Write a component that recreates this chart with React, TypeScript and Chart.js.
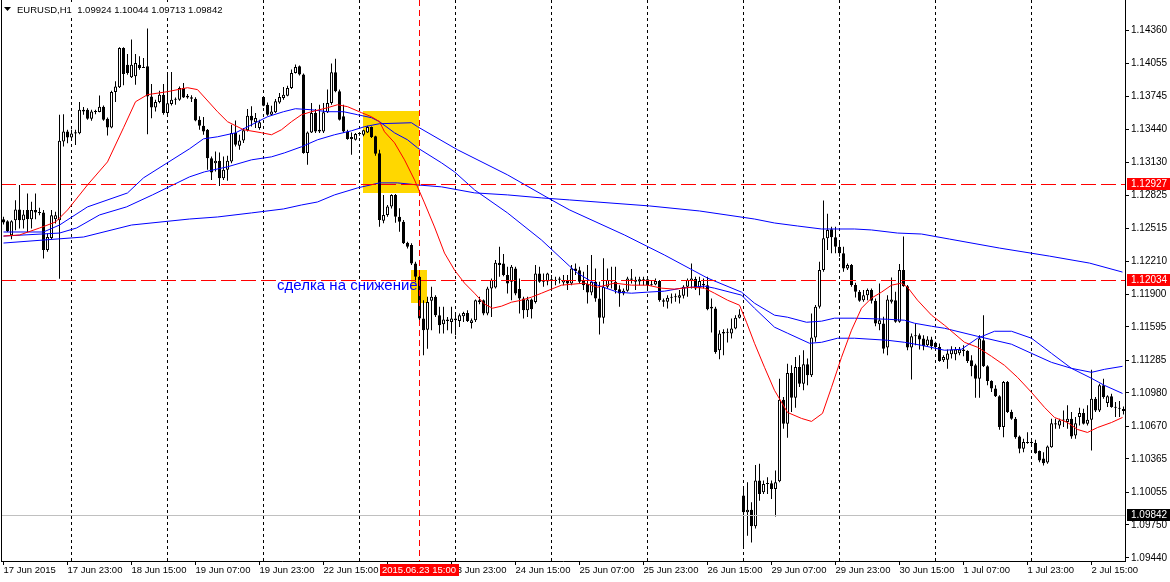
import React, { useEffect, useRef } from "react";
import { Chart, registerables } from "chart.js";

Chart.register(...registerables);

// ---------------- data (EURUSD H1, bar index 0 = 17 Jun 2015 07:00) ----------------
const opens = [
  1.12601, 1.12582, 1.12451, 1.12591, 1.12691, 1.12591, 1.12685, 1.12601, 1.12685, 1.12663,
  1.12663, 1.12314, 1.12426, 1.12601, 1.12591, 1.13324, 1.13418, 1.13362, 1.13399, 1.13402,
  1.13621, 1.13621, 1.13537, 1.13605, 1.13600, 1.13649, 1.13537, 1.13456, 1.13786, 1.13830,
  1.14198, 1.14042, 1.13924, 1.13933, 1.14042, 1.14011, 1.14027, 1.13746, 1.13643, 1.13693,
  1.13761, 1.13590, 1.13674, 1.13715, 1.13715, 1.13824, 1.13736, 1.13737, 1.13725, 1.13528,
  1.13472, 1.13435, 1.13170, 1.13123, 1.13145, 1.12983, 1.13061, 1.13139, 1.13404, 1.13285,
  1.13335, 1.13429, 1.13566, 1.13504, 1.13451, 1.13740, 1.13669, 1.13575, 1.13597, 1.13690,
  1.13731, 1.13753, 1.13825, 1.13965, 1.14027, 1.13949, 1.13217, 1.13410, 1.13591, 1.13419,
  1.13419, 1.13597, 1.13684, 1.13971, 1.13793, 1.13560, 1.13419, 1.13348, 1.13341, 1.13394,
  1.13388, 1.13410, 1.13460, 1.13373, 1.13216, 1.12587, 1.12640, 1.12718, 1.12827, 1.12624,
  1.12577, 1.12381, 1.12359, 1.12188, 1.12063, 1.11673, 1.11570, 1.11839, 1.11876, 1.11705,
  1.11620, 1.11664, 1.11642, 1.11673, 1.11651, 1.11695, 1.11726, 1.11633, 1.11658, 1.11845,
  1.11845, 1.11720, 1.11954, 1.11963, 1.12194, 1.12188, 1.12079, 1.12016, 1.12141, 1.11950,
  1.11860, 1.11751, 1.11851, 1.11829, 1.12094, 1.12016, 1.12020, 1.12040, 1.12025, 1.12035,
  1.12010, 1.12032, 1.12001, 1.12141, 1.12125, 1.12030, 1.11995, 1.11917, 1.12017, 1.11861,
  1.11680, 1.11970, 1.12032, 1.12017, 1.11948, 1.11908, 1.11932, 1.12048, 1.12035, 1.12020,
  1.12040, 1.12040, 1.11985, 1.11992, 1.12023, 1.11845, 1.11830, 1.11867, 1.11876, 1.11867,
  1.11886, 1.11970, 1.12023, 1.12042, 1.11960, 1.11995, 1.11985, 1.11783, 1.11767, 1.11378,
  1.11533, 1.11549, 1.11533, 1.11580, 1.11680, 1.10022, 1.09866, 1.09891, 1.09735, 1.10162,
  1.10053, 1.10131, 1.10137, 1.10084, 1.10156, 1.10917, 1.10692, 1.11166, 1.10935, 1.11222,
  1.11066, 1.11247, 1.11144, 1.11496, 1.11783, 1.12126, 1.12422, 1.12506, 1.12431, 1.12344,
  1.12282, 1.12141, 1.12173, 1.11986, 1.11923, 1.11845, 1.11892, 1.11939, 1.11839, 1.11621,
  1.11627, 1.11403, 1.11830, 1.11845, 1.11643, 1.12126, 1.11976, 1.11403, 1.11509, 1.11518,
  1.11487, 1.11425, 1.11478, 1.11447, 1.11409, 1.11284, 1.11290, 1.11341, 1.11341, 1.11350,
  1.11384, 1.11372, 1.11284, 1.11238, 1.11113, 1.11471, 1.11228, 1.11091, 1.11020, 1.10948,
  1.10661, 1.11082, 1.10801, 1.10739, 1.10574, 1.10458, 1.10521, 1.10512, 1.10512, 1.10437,
  1.10368, 1.10330, 1.10474, 1.10698, 1.10677, 1.10723, 1.10708, 1.10739, 1.10583, 1.10755,
  1.10792, 1.10692, 1.10730, 1.10926, 1.10817, 1.11051, 1.10885, 1.10948, 1.10848, 1.10842,
  1.10829,
];

const highs = [
  1.12622, 1.12591, 1.12591, 1.12778, 1.12919, 1.12685, 1.12841, 1.12763, 1.12841, 1.12707,
  1.12685, 1.12466, 1.12685, 1.12669, 1.13574, 1.13580, 1.13434, 1.13434, 1.13434, 1.13693,
  1.13646, 1.13636, 1.13621, 1.13621, 1.13755, 1.13661, 1.13549, 1.13799, 1.13886, 1.14204,
  1.14204, 1.14142, 1.14276, 1.14142, 1.14120, 1.14104, 1.14379, 1.13861, 1.13715, 1.13799,
  1.13861, 1.13973, 1.13973, 1.13736, 1.13839, 1.13871, 1.13768, 1.13756, 1.13737, 1.13560,
  1.13553, 1.13441, 1.13186, 1.13232, 1.13223, 1.13186, 1.13192, 1.13482, 1.13522, 1.13388,
  1.13451, 1.13628, 1.13653, 1.13591, 1.13528, 1.13747, 1.13690, 1.13659, 1.13722, 1.13778,
  1.13834, 1.13846, 1.13996, 1.14043, 1.14033, 1.13959, 1.13419, 1.13684, 1.13628, 1.13669,
  1.13684, 1.13809, 1.14052, 1.14096, 1.13809, 1.13669, 1.13435, 1.13410, 1.13404, 1.13410,
  1.13435, 1.13472, 1.13466, 1.13379, 1.13247, 1.12827, 1.12733, 1.12833, 1.12836, 1.12702,
  1.12593, 1.12390, 1.12375, 1.12203, 1.12079, 1.11845, 1.11876, 1.11970, 1.11892, 1.11783,
  1.11783, 1.11689, 1.11783, 1.11720, 1.11720, 1.11736, 1.11751, 1.11673, 1.11851, 1.11876,
  1.11851, 1.11970, 1.12047, 1.12219, 1.12344, 1.12275, 1.12157, 1.12172, 1.12157, 1.12047,
  1.11876, 1.11876, 1.11860, 1.12172, 1.12157, 1.12094, 1.12100, 1.12079, 1.12063, 1.12063,
  1.12079, 1.12079, 1.12172, 1.12188, 1.12157, 1.12110, 1.12172, 1.12266, 1.12141, 1.12017,
  1.12235, 1.12141, 1.12157, 1.12157, 1.11985, 1.11954, 1.12063, 1.12135, 1.12063, 1.12063,
  1.12063, 1.12063, 1.12032, 1.12048, 1.12032, 1.11861, 1.11892, 1.11908, 1.11908, 1.11939,
  1.11985, 1.12048, 1.12188, 1.12063, 1.12063, 1.12048, 1.12063, 1.11861, 1.11783, 1.11565,
  1.11574, 1.11580, 1.11674, 1.11705, 1.11761, 1.10084, 1.10146, 1.09959, 1.10308, 1.10318,
  1.10162, 1.10193, 1.10162, 1.10256, 1.11113, 1.10941, 1.11253, 1.11238, 1.11316, 1.11331,
  1.11378, 1.11300, 1.11721, 1.11799, 1.12204, 1.12774, 1.12650, 1.12531, 1.12531, 1.12391,
  1.12344, 1.12188, 1.12182, 1.12008, 1.11939, 1.11939, 1.11955, 1.11955, 1.11861, 1.12001,
  1.11690, 1.11892, 1.12057, 1.11923, 1.12182, 1.12438, 1.11986, 1.11534, 1.11627, 1.11534,
  1.11518, 1.11509, 1.11503, 1.11456, 1.11440, 1.11331, 1.11384, 1.11415, 1.11409, 1.11409,
  1.11425, 1.11378, 1.11331, 1.11253, 1.11518, 1.11705, 1.11238, 1.11097, 1.11051, 1.10957,
  1.11091, 1.11091, 1.10823, 1.10755, 1.10583, 1.10552, 1.10614, 1.10536, 1.10543, 1.10443,
  1.10427, 1.10490, 1.10739, 1.10739, 1.10739, 1.10817, 1.10864, 1.10801, 1.10755, 1.10842,
  1.10832, 1.10864, 1.11197, 1.10941, 1.11066, 1.11113, 1.10957, 1.10973, 1.10895, 1.10904,
  1.10854,
];

const lows = [
  1.12551, 1.12482, 1.12413, 1.12498, 1.12513, 1.12513, 1.12482, 1.12513, 1.12601, 1.12638,
  1.12234, 1.12297, 1.12413, 1.12560, 1.12045, 1.13278, 1.13309, 1.13349, 1.13293, 1.13393,
  1.13574, 1.13527, 1.13518, 1.13580, 1.13599, 1.13518, 1.13381, 1.13449, 1.13693, 1.13824,
  1.13849, 1.13948, 1.13917, 1.13855, 1.13995, 1.14011, 1.13393, 1.13543, 1.13605, 1.13683,
  1.13574, 1.13558, 1.13661, 1.13668, 1.13705, 1.13731, 1.13724, 1.13694, 1.13513, 1.13435,
  1.13388, 1.13061, 1.12967, 1.13045, 1.12911, 1.12967, 1.12958, 1.13123, 1.13279, 1.13248,
  1.13310, 1.13419, 1.13466, 1.13451, 1.13435, 1.13653, 1.13566, 1.13570, 1.13591, 1.13678,
  1.13715, 1.13747, 1.13815, 1.13959, 1.13940, 1.13210, 1.13108, 1.13404, 1.13404, 1.13404,
  1.13404, 1.13591, 1.13669, 1.13784, 1.13522, 1.13404, 1.13341, 1.13201, 1.13335, 1.13379,
  1.13373, 1.13404, 1.13357, 1.13192, 1.12531, 1.12562, 1.12624, 1.12700, 1.12568, 1.12484,
  1.12368, 1.12328, 1.12172, 1.12016, 1.11658, 1.11331, 1.11393, 1.11564, 1.11689, 1.11533,
  1.11533, 1.11564, 1.11533, 1.11518, 1.11595, 1.11642, 1.11642, 1.11580, 1.11642, 1.11807,
  1.11705, 1.11705, 1.11689, 1.11954, 1.12063, 1.12069, 1.11907, 1.11845, 1.11892, 1.11720,
  1.11673, 1.11689, 1.11673, 1.11814, 1.12007, 1.11970, 1.11985, 1.11954, 1.11985, 1.12001,
  1.11985, 1.11939, 1.11985, 1.12079, 1.12001, 1.11939, 1.11814, 1.11892, 1.11830, 1.11524,
  1.11627, 1.11954, 1.11954, 1.11908, 1.11783, 1.11892, 1.11923, 1.12001, 1.11939, 1.11985,
  1.11985, 1.11954, 1.11979, 1.11985, 1.11830, 1.11783, 1.11767, 1.11814, 1.11830, 1.11814,
  1.11861, 1.11876, 1.11954, 1.11939, 1.11892, 1.11954, 1.11752, 1.11543, 1.11346, 1.11293,
  1.11331, 1.11449, 1.11487, 1.11574, 1.11674, 1.09523, 1.09648, 1.09585, 1.09716, 1.09975,
  1.10038, 1.10038, 1.09991, 1.09826, 1.10147, 1.10645, 1.10561, 1.10801, 1.10842, 1.11035,
  1.11004, 1.11051, 1.11129, 1.11456, 1.11767, 1.12110, 1.12313, 1.12282, 1.12282, 1.12251,
  1.12110, 1.12126, 1.11970, 1.11870, 1.11830, 1.11830, 1.11845, 1.11814, 1.11602, 1.11565,
  1.11347, 1.11331, 1.11814, 1.11634, 1.11634, 1.11970, 1.11378, 1.11104, 1.11425, 1.11384,
  1.11378, 1.11409, 1.11384, 1.11378, 1.11270, 1.11269, 1.11206, 1.11300, 1.11284, 1.11331,
  1.11322, 1.11260, 1.11135, 1.10935, 1.10935, 1.11222, 1.11051, 1.10988, 1.10942, 1.10636,
  1.10567, 1.10792, 1.10730, 1.10552, 1.10418, 1.10427, 1.10505, 1.10499, 1.10412, 1.10334,
  1.10303, 1.10320, 1.10468, 1.10645, 1.10645, 1.10661, 1.10645, 1.10552, 1.10552, 1.10677,
  1.10686, 1.10677, 1.10443, 1.10801, 1.10801, 1.10926, 1.10848, 1.10842, 1.10755, 1.10755,
  1.10779,
];

const closes = [
  1.12569, 1.12488, 1.12582, 1.12691, 1.12591, 1.12644, 1.12601, 1.12685, 1.12663, 1.12657,
  1.12314, 1.12435, 1.12638, 1.12638, 1.13331, 1.13418, 1.13362, 1.13399, 1.13412, 1.13621,
  1.13605, 1.13537, 1.13605, 1.13600, 1.13649, 1.13527, 1.13456, 1.13786, 1.13839, 1.14198,
  1.13955, 1.13964, 1.14042, 1.14058, 1.14011, 1.14020, 1.13746, 1.13643, 1.13693, 1.13761,
  1.13590, 1.13683, 1.13715, 1.13724, 1.13824, 1.13736, 1.13752, 1.13725, 1.13522, 1.13472,
  1.13419, 1.13170, 1.13036, 1.13145, 1.12983, 1.13061, 1.13145, 1.13404, 1.13295, 1.13335,
  1.13429, 1.13566, 1.13522, 1.13544, 1.13504, 1.13659, 1.13575, 1.13606, 1.13700, 1.13740,
  1.13762, 1.13825, 1.13965, 1.14021, 1.13949, 1.13217, 1.13410, 1.13591, 1.13419, 1.13435,
  1.13597, 1.13684, 1.13971, 1.13793, 1.13528, 1.13419, 1.13348, 1.13366, 1.13394, 1.13397,
  1.13429, 1.13460, 1.13366, 1.13210, 1.12593, 1.12640, 1.12718, 1.12827, 1.12624, 1.12577,
  1.12375, 1.12344, 1.12188, 1.12063, 1.11673, 1.11564, 1.11829, 1.11876, 1.11705, 1.11611,
  1.11664, 1.11651, 1.11673, 1.11658, 1.11705, 1.11726, 1.11651, 1.11658, 1.11845, 1.11829,
  1.11720, 1.11954, 1.12032, 1.12194, 1.12172, 1.12079, 1.12001, 1.12157, 1.11907, 1.11860,
  1.11751, 1.11851, 1.11760, 1.12094, 1.12016, 1.12032, 1.12094, 1.12025, 1.12035, 1.12047,
  1.12032, 1.12001, 1.12141, 1.12116, 1.12017, 1.11985, 1.11917, 1.12017, 1.11861, 1.11680,
  1.11970, 1.12032, 1.12020, 1.11939, 1.11908, 1.11932, 1.12048, 1.12035, 1.12017, 1.12040,
  1.12030, 1.11985, 1.11992, 1.12023, 1.11845, 1.11830, 1.11867, 1.11876, 1.11873, 1.11892,
  1.11970, 1.12032, 1.12048, 1.11954, 1.12023, 1.11985, 1.11761, 1.11767, 1.11362, 1.11533,
  1.11549, 1.11540, 1.11580, 1.11680, 1.11711, 1.09866, 1.09891, 1.09735, 1.10162, 1.10038,
  1.10131, 1.10137, 1.10084, 1.10147, 1.10917, 1.10692, 1.11166, 1.10935, 1.11222, 1.11066,
  1.11247, 1.11144, 1.11496, 1.11783, 1.12126, 1.12422, 1.12500, 1.12431, 1.12344, 1.12282,
  1.12141, 1.12173, 1.11986, 1.11923, 1.11839, 1.11892, 1.11939, 1.11839, 1.11627, 1.11658,
  1.11393, 1.11852, 1.11852, 1.11643, 1.12126, 1.11976, 1.11403, 1.11509, 1.11518, 1.11478,
  1.11415, 1.11478, 1.11415, 1.11409, 1.11278, 1.11316, 1.11347, 1.11384, 1.11384, 1.11384,
  1.11372, 1.11278, 1.11228, 1.11113, 1.11487, 1.11228, 1.11091, 1.11020, 1.10948, 1.10661,
  1.11082, 1.10801, 1.10739, 1.10567, 1.10458, 1.10521, 1.10512, 1.10520, 1.10418, 1.10349,
  1.10324, 1.10480, 1.10698, 1.10686, 1.10723, 1.10730, 1.10739, 1.10574, 1.10698, 1.10792,
  1.10692, 1.10730, 1.10926, 1.10817, 1.11051, 1.10942, 1.10948, 1.10848, 1.10842, 1.10833,
  1.10811,
];

// Moving averages: bar position and price
const redMaX = [0, 4, 9, 13, 16, 21, 26, 30, 33, 36, 41, 46, 48.5, 53.5, 56, 60, 64.5, 67, 69.5, 72, 74.5, 77, 81, 83.5, 86, 89.5, 92, 94, 95.25, 97.75, 100.25, 102.75, 105.25, 107.75, 110.25, 112.75, 115.25, 117.75, 120.25, 122.25, 124.5, 127, 129.5, 132, 134.5, 137, 139.5, 145.25, 148.5, 152.75, 157, 161, 164.5, 167.75, 172, 175.25, 177.75, 181, 184, 185.75, 187.75, 190.25, 192.75, 196, 199.5, 202, 204.75, 207, 209.5, 212, 214.5, 217, 219.5, 222, 224.5, 226, 228.5, 232, 235.25, 240.25, 243.5, 247, 250.25, 253.5, 257, 260.25, 262.75, 266, 268.5, 271, 273.5, 277, 279.75];
const redMaY = [1.12443, 1.12453, 1.12518, 1.12574, 1.12686, 1.12920, 1.13135, 1.13453, 1.13696, 1.13762, 1.13790, 1.13827, 1.13809, 1.13603, 1.13510, 1.13435, 1.13407, 1.13388, 1.13435, 1.13510, 1.13575, 1.13603, 1.13640, 1.13668, 1.13650, 1.13594, 1.13556, 1.13510, 1.13416, 1.13313, 1.13154, 1.12967, 1.12752, 1.12528, 1.12284, 1.12126, 1.12004, 1.11910, 1.11808, 1.11770, 1.11789, 1.11826, 1.11845, 1.11873, 1.11910, 1.11948, 1.11985, 1.12004, 1.11966, 1.12004, 1.11985, 1.11985, 1.11957, 1.11948, 1.11966, 1.11957, 1.11910, 1.11845, 1.11798, 1.11639, 1.11443, 1.11219, 1.11004, 1.10798, 1.10742, 1.10714, 1.10789, 1.11032, 1.11312, 1.11565, 1.11770, 1.11864, 1.11920, 1.11985, 1.12004, 1.11966, 1.11845, 1.11705, 1.11611, 1.11452, 1.11406, 1.11321, 1.11237, 1.11125, 1.10985, 1.10845, 1.10751, 1.10704, 1.10639, 1.10611, 1.10657, 1.10704, 1.10751];

const blueFastX = [0, 10, 14, 21, 31, 35, 46.5, 50, 53.5, 58, 62, 66, 70, 73, 77, 81, 85, 88.5, 92, 94, 97.75, 101, 103.5, 109.5, 112.75, 117.75, 126, 134.5, 141.5, 143.5, 148.5, 153.5, 157, 161, 165.25, 169.5, 175.25, 177.75, 184.5, 187.75, 192.75, 196, 201.5, 204.5, 208.5, 212.75, 221, 225.25, 229.5, 235.25, 239.5, 243.5, 247.75, 252, 257, 262, 267, 272, 275.25, 279.75];
const blueFastY = [1.12481, 1.12481, 1.12546, 1.12715, 1.12845, 1.12986, 1.13257, 1.13350, 1.13369, 1.13406, 1.13481, 1.13556, 1.13603, 1.13631, 1.13621, 1.13603, 1.13603, 1.13575, 1.13547, 1.13510, 1.13406, 1.13341, 1.13266, 1.13126, 1.13042, 1.12874, 1.12659, 1.12406, 1.12163, 1.12097, 1.11985, 1.11920, 1.11910, 1.11920, 1.11929, 1.11957, 1.11976, 1.11957, 1.11892, 1.11770, 1.11593, 1.11537, 1.11443, 1.11452, 1.11490, 1.11490, 1.11471, 1.11452, 1.11424, 1.11378, 1.11387, 1.11490, 1.11555, 1.11555, 1.11490, 1.11349, 1.11209, 1.11116, 1.11050, 1.10975];

const blueMidX = [0, 14, 18.25, 24, 30.75, 37.25, 46.5, 50.25, 56, 62, 67, 70.25, 74.5, 78.5, 82.75, 87, 90.25, 94, 102, 103.5, 113.5, 126, 137, 141.5, 155.25, 165.25, 176, 184.5, 187.75, 192.75, 196, 200.75, 204.5, 207.75, 212.75, 221, 225.25, 227.75, 232, 235.25, 243.5, 252, 257, 262, 267, 272, 275.25, 279.75];
const blueMidY = [1.12443, 1.12471, 1.12518, 1.12640, 1.12715, 1.12827, 1.12995, 1.13042, 1.13089, 1.13154, 1.13182, 1.13219, 1.13276, 1.13341, 1.13388, 1.13425, 1.13463, 1.13491, 1.13500, 1.13463, 1.13248, 1.13014, 1.12780, 1.12687, 1.12453, 1.12266, 1.12051, 1.11920, 1.11817, 1.11705, 1.11686, 1.11639, 1.11649, 1.11677, 1.11677, 1.11667, 1.11658, 1.11630, 1.11602, 1.11583, 1.11508, 1.11434, 1.11349, 1.11265, 1.11209, 1.11172, 1.11200, 1.11228];

const blueSlowX = [0, 20, 32, 46.5, 53.5, 62, 70, 74.5, 78.5, 82.75, 88.5, 94, 98.5, 103.5, 109.5, 117.75, 126, 134.5, 141.5, 161.5, 174, 187.75, 192.75, 198.5, 204.5, 212.75, 217, 223.5, 229.5, 236.5, 249, 261.5, 271.5, 279.75];
const blueSlowY = [1.12378, 1.12434, 1.12546, 1.12602, 1.12621, 1.12659, 1.12696, 1.12733, 1.12761, 1.12827, 1.12892, 1.12939, 1.12939, 1.12920, 1.12902, 1.12846, 1.12827, 1.12799, 1.12780, 1.12724, 1.12677, 1.12602, 1.12565, 1.12537, 1.12509, 1.12509, 1.12500, 1.12471, 1.12462, 1.12415, 1.12331, 1.12256, 1.12191, 1.12107];

// axis ticks
const yTicks = [1.14360, 1.14055, 1.13745, 1.13440, 1.13130, 1.12825, 1.12515, 1.12210, 1.11900, 1.11595, 1.11285, 1.10980, 1.10670, 1.10365, 1.10055, 1.09750, 1.09440];
const xTickIdx = [0, 16, 32, 48, 64, 80, 96, 112, 128, 144, 160, 176, 192, 208, 224, 240, 256, 272];
const xTickLabels = ["17 Jun 2015", "17 Jun 23:00", "18 Jun 15:00", "19 Jun 07:00", "19 Jun 23:00", "22 Jun 15:00", "23 Jun 07:00", "23 Jun 23:00", "24 Jun 15:00", "25 Jun 07:00", "25 Jun 23:00", "26 Jun 15:00", "29 Jun 07:00", "29 Jun 23:00", "30 Jun 15:00", "1 Jul 07:00", "1 Jul 23:00", "2 Jul 15:00"];
const dayStartIdx = [17, 41, 65, 89, 113, 137, 161, 185, 209, 233, 257];

// objects on the chart
const redLevels = [1.12927, 1.12034];
const bidLevel = 1.09842;
const cursorIdx = 104;
const cursorLabel = "2015.06.23 15:00";
const zoneX0 = [89.875, 101.875];
const zoneX1 = [103.875, 105.8];
const zoneTop = [1.1361, 1.12126];
const zoneBottom = [1.12845, 1.11821];
const noteText = "сделка на снижение";
const noteIdx = 68.4;
const notePrice = 1.1194;
const headerSymbol = "EURUSD,H1";
const headerValues = ["1.09924", "1.10044", "1.09713", "1.09842"];

// view range
const X_MIN = -0.625;
const X_MAX = 280.375;
const Y_MAX = 1.14645;
const Y_MIN = 1.09412;
const FONT = "'Liberation Sans', Arial, sans-serif";

const overlayPlugin = {
  id: "mt4overlay",
  beforeDraw(chart: any) {
    const { ctx, width, height } = chart;
    ctx.save();
    ctx.fillStyle = "#ffffff";
    ctx.fillRect(0, 0, width, height);
    ctx.restore();
  },
  beforeDatasetsDraw(chart: any) {
    const { ctx, chartArea: a, scales } = chart;
    const x = scales.x;
    const y = scales.y;
    ctx.save();
    ctx.beginPath();
    ctx.rect(a.left, a.top, a.right - a.left, a.bottom - a.top);
    ctx.clip();
    ctx.fillStyle = "#ffd700";
    for (let k = 0; k < zoneX0.length; k++) {
      const l = Math.round(x.getPixelForValue(zoneX0[k]));
      const r = Math.round(x.getPixelForValue(zoneX1[k]));
      const t = Math.round(y.getPixelForValue(zoneTop[k]));
      const b = Math.round(y.getPixelForValue(zoneBottom[k]));
      ctx.fillRect(l, t, r - l, b - t);
    }
    ctx.strokeStyle = "#000000";
    ctx.lineWidth = 1;
    ctx.setLineDash([3, 3]);
    for (const d of dayStartIdx) {
      const px = Math.floor(x.getPixelForValue(d)) + 0.5;
      ctx.beginPath();
      ctx.moveTo(px, a.top);
      ctx.lineTo(px, a.bottom);
      ctx.stroke();
    }
    ctx.restore();
  },
  afterDatasetsDraw(chart: any) {
    const { ctx, chartArea: a, scales } = chart;
    const x = scales.x;
    const y = scales.y;
    ctx.save();
    ctx.beginPath();
    ctx.rect(a.left, a.top, a.right - a.left, a.bottom - a.top);
    ctx.clip();
    ctx.lineWidth = 1;
    // bid line
    ctx.strokeStyle = "#c0c0c0";
    ctx.setLineDash([]);
    let py = Math.round(y.getPixelForValue(bidLevel)) + 0.5;
    ctx.beginPath();
    ctx.moveTo(a.left, py);
    ctx.lineTo(a.right, py);
    ctx.stroke();
    // red dashed levels
    ctx.strokeStyle = "#ff0000";
    ctx.setLineDash([15, 5]);
    for (const lv of redLevels) {
      py = Math.round(y.getPixelForValue(lv)) + 0.5;
      ctx.beginPath();
      ctx.moveTo(a.left, py);
      ctx.lineTo(a.right, py);
      ctx.stroke();
    }
    // cursor vertical
    const cx = Math.floor(x.getPixelForValue(cursorIdx)) + 0.5;
    ctx.setLineDash([6, 4]);
    ctx.beginPath();
    ctx.moveTo(cx, a.top);
    ctx.lineTo(cx, a.bottom);
    ctx.stroke();
    ctx.setLineDash([]);
    // note text
    ctx.fillStyle = "#0000ff";
    ctx.font = "15px " + FONT;
    ctx.textBaseline = "alphabetic";
    ctx.textAlign = "left";
    ctx.fillText(noteText, x.getPixelForValue(noteIdx), y.getPixelForValue(notePrice));
    ctx.restore();

    // frame left
    ctx.save();
    ctx.strokeStyle = "#000000";
    ctx.lineWidth = 1;
    ctx.beginPath();
    ctx.moveTo(a.left + 0.5, a.top);
    ctx.lineTo(a.left + 0.5, a.bottom);
    ctx.stroke();
    // header
    ctx.font = "9.5px " + FONT;
    ctx.textBaseline = "middle";
    ctx.textAlign = "left";
    const headText = headerSymbol + "  " + headerValues.join(" ");
    const w = ctx.measureText(headText).width;
    ctx.fillStyle = "#ffffff";
    ctx.fillRect(a.left + 2, 2, w + 18, 14);
    ctx.fillStyle = "#000000";
    ctx.beginPath();
    ctx.moveTo(a.left + 3, 7);
    ctx.lineTo(a.left + 10, 7);
    ctx.lineTo(a.left + 6.5, 11);
    ctx.closePath();
    ctx.fill();
    ctx.fillText(headText, a.left + 16, 10);
    ctx.restore();
  },
  afterDraw(chart: any) {
    const { ctx, chartArea: a, scales } = chart;
    const x = scales.x;
    const y = scales.y;
    ctx.save();
    ctx.font = "10px " + FONT;
    ctx.textBaseline = "middle";
    ctx.textAlign = "left";
    const box = (text: string, price: number, bg: string) => {
      const py = Math.round(y.getPixelForValue(price));
      ctx.fillStyle = bg;
      ctx.fillRect(a.right + 2, py - 6, chart.width - a.right - 2, 12);
      ctx.fillStyle = "#ffffff";
      ctx.fillText(text, a.right + 6, py + 0.5);
    };
    for (const lv of redLevels) box(lv.toFixed(5), lv, "#ff0000");
    box(bidLevel.toFixed(5), bidLevel, "#000000");
    // cursor time box
    const cx = Math.floor(x.getPixelForValue(cursorIdx));
    ctx.font = "9.5px " + FONT;
    ctx.fillStyle = "#ff0000";
    ctx.fillRect(cx - 39, a.bottom + 3, 79, 12);
    ctx.fillStyle = "#ffffff";
    ctx.fillText(cursorLabel, cx - 37, a.bottom + 9.5);
    ctx.restore();
  },
};

export default function App() {
  const ref = useRef<HTMLCanvasElement | null>(null);

  useEffect(() => {
    const canvas = ref.current;
    if (!canvas) return;
    const idx = opens.map((_, i) => i);
    const wickData = idx.map((i) => ({ x: i, y: [lows[i], highs[i]] }));
    const bodyData = idx.map((i) => ({ x: i, y: [opens[i], closes[i]] }));
    const bodyFill = idx.map((i) => (closes[i] >= opens[i] ? "#ffffff" : "#000000"));
    const line = (xs: number[], ys: number[], color: string) => ({
      type: "line",
      data: xs.map((v, k) => ({ x: v, y: ys[k] })),
      borderColor: color,
      borderWidth: 1,
      pointRadius: 0,
      tension: 0,
      fill: false,
      order: 0,
    });

    const chart = new Chart(canvas, {
      type: "bar",
      data: {
        datasets: [
          line(redMaX, redMaY, "#ff0000"),
          line(blueFastX, blueFastY, "#0000ff"),
          line(blueMidX, blueMidY, "#0000ff"),
          line(blueSlowX, blueSlowY, "#0000ff"),
          {
            type: "bar",
            data: bodyData,
            backgroundColor: bodyFill,
            borderColor: "#000000",
            borderWidth: 1,
            borderSkipped: false,
            barThickness: 3,
            minBarLength: 1,
            grouped: false,
            inflateAmount: 0,
            order: 1,
          },
          {
            type: "bar",
            data: wickData,
            backgroundColor: "#000000",
            borderWidth: 0,
            barThickness: 1,
            grouped: false,
            inflateAmount: 0,
            order: 2,
          },
        ] as any,
      },
      options: {
        animation: false,
        responsive: false,
        devicePixelRatio: 1,
        events: [],
        layout: { padding: { left: 1, right: 0, top: 0, bottom: 0 } },
        plugins: { legend: { display: false }, tooltip: { enabled: false } },
        scales: {
          x: {
            type: "linear",
            min: X_MIN,
            max: X_MAX,
            offset: false,
            afterBuildTicks: (s: any) => {
              s.ticks = xTickIdx.map((v) => ({ value: v }));
            },
            afterFit: (s: any) => {
              s.height = 21;
              s.paddingLeft = 0;
              s.paddingRight = 0;
              s.paddingTop = 0;
              s.paddingBottom = 0;
            },
            ticks: {
              autoSkip: false,
              maxRotation: 0,
              minRotation: 0,
              align: "start",
              padding: 0,
              color: "#000000",
              font: { family: FONT, size: 9.5 },
              callback: (v: any) => xTickLabels[xTickIdx.indexOf(Number(v))],
            },
            grid: { drawOnChartArea: false, drawTicks: true, tickLength: 4, color: "#000000", offset: false },
            border: { display: true, color: "#000000", width: 1 },
          },
          y: {
            type: "linear",
            position: "right",
            min: Y_MIN,
            max: Y_MAX,
            afterBuildTicks: (s: any) => {
              s.ticks = yTicks.map((v) => ({ value: v }));
            },
            afterFit: (s: any) => {
              s.width = 45;
              s.paddingTop = 0;
              s.paddingBottom = 0;
              s.paddingLeft = 0;
              s.paddingRight = 0;
            },
            ticks: {
              autoSkip: false,
              padding: 2,
              color: "#000000",
              font: { family: FONT, size: 10 },
              callback: (v: any) => Number(v).toFixed(5),
            },
            grid: { drawOnChartArea: false, drawTicks: true, tickLength: 4, color: "#000000" },
            border: { display: true, color: "#000000", width: 1 },
          },
        },
      } as any,
      plugins: [overlayPlugin],
    });
    return () => chart.destroy();
  }, []);

  return (
    <div style={{ position: "absolute", left: 0, top: 0, width: 1170, height: 582, background: "#ffffff" }}>
      <canvas ref={ref} width={1170} height={582} style={{ display: "block", width: 1170, height: 582 }} />
    </div>
  );
}
